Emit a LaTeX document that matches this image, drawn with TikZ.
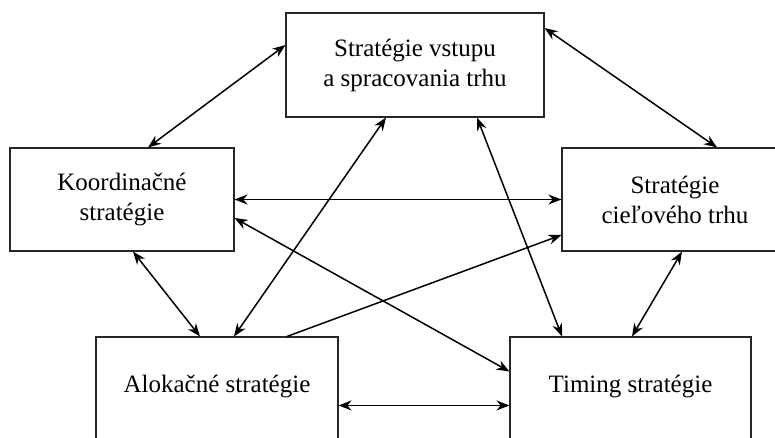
\documentclass[tikz,border=0pt]{standalone}
\usepackage{fontspec}
\setmainfont{Liberation Serif}
\usetikzlibrary{arrows.meta}
\begin{document}
\begin{tikzpicture}[x=1pt,y=-1pt,
  box/.style={draw=black!85, line width=1.1pt, align=center, inner sep=0pt,
    font=\fontsize{25}{30}\selectfont},
  lowbox/.style={box, text height=55pt, text depth=80pt, anchor=base},
  link/.style={line width=1.5pt, {Stealth[length=13pt,width=10pt]}-{Stealth[length=13pt,width=10pt]}},
  oneway/.style={line width=1.5pt, -{Stealth[length=13pt,width=10pt]}}]
\useasboundingbox (0,0) rectangle (775,437);
\clip (0,0) rectangle (775,437);
\node[box, minimum width=258pt, minimum height=104pt] (top) at (415,65) {Stratégie vstupu\\a spracovania trhu};
\node[box, minimum width=224pt, minimum height=103pt] (koord) at (122,199.5) {Koordinačné\\stratégie};
\node[box, minimum width=226pt, minimum height=103pt] (ciel) at (675,199.5) {Stratégie\\cieľového trhu};
\node[lowbox, minimum width=242pt] (alok) at (217,392) {Alokačné stratégie};
\node[lowbox, minimum width=241pt] (timing) at (630.5,392) {Timing stratégie};

\draw[link] ([xshift=26pt]koord.north) -- ([yshift=20pt]top.west);
\draw[link] ([yshift=37pt]top.east) -- ([xshift=42pt]ciel.north);
\draw[link] (koord.east) -- (ciel.west);
\draw[link] ([yshift=-18.5pt]koord.east) -- ([yshift=-35pt]timing.north west);
\draw[link] ([xshift=11pt]koord.south) -- ([xshift=-17pt]alok.north);
\draw[link] ([xshift=17pt]alok.north) -- ([xshift=-29pt]top.south);
\draw[oneway] ([xshift=70pt]alok.north) -- ([yshift=-35.5pt]ciel.west);
\draw[link] ([xshift=62pt]top.south) -- ([xshift=-68.5pt]timing.north);
\draw[link] ([xshift=7pt]ciel.south) -- ([xshift=1.5pt]timing.north);
\draw[link] ([yshift=-69pt]alok.north east) -- ([yshift=-69pt]timing.north west);
\end{tikzpicture}
\end{document}
